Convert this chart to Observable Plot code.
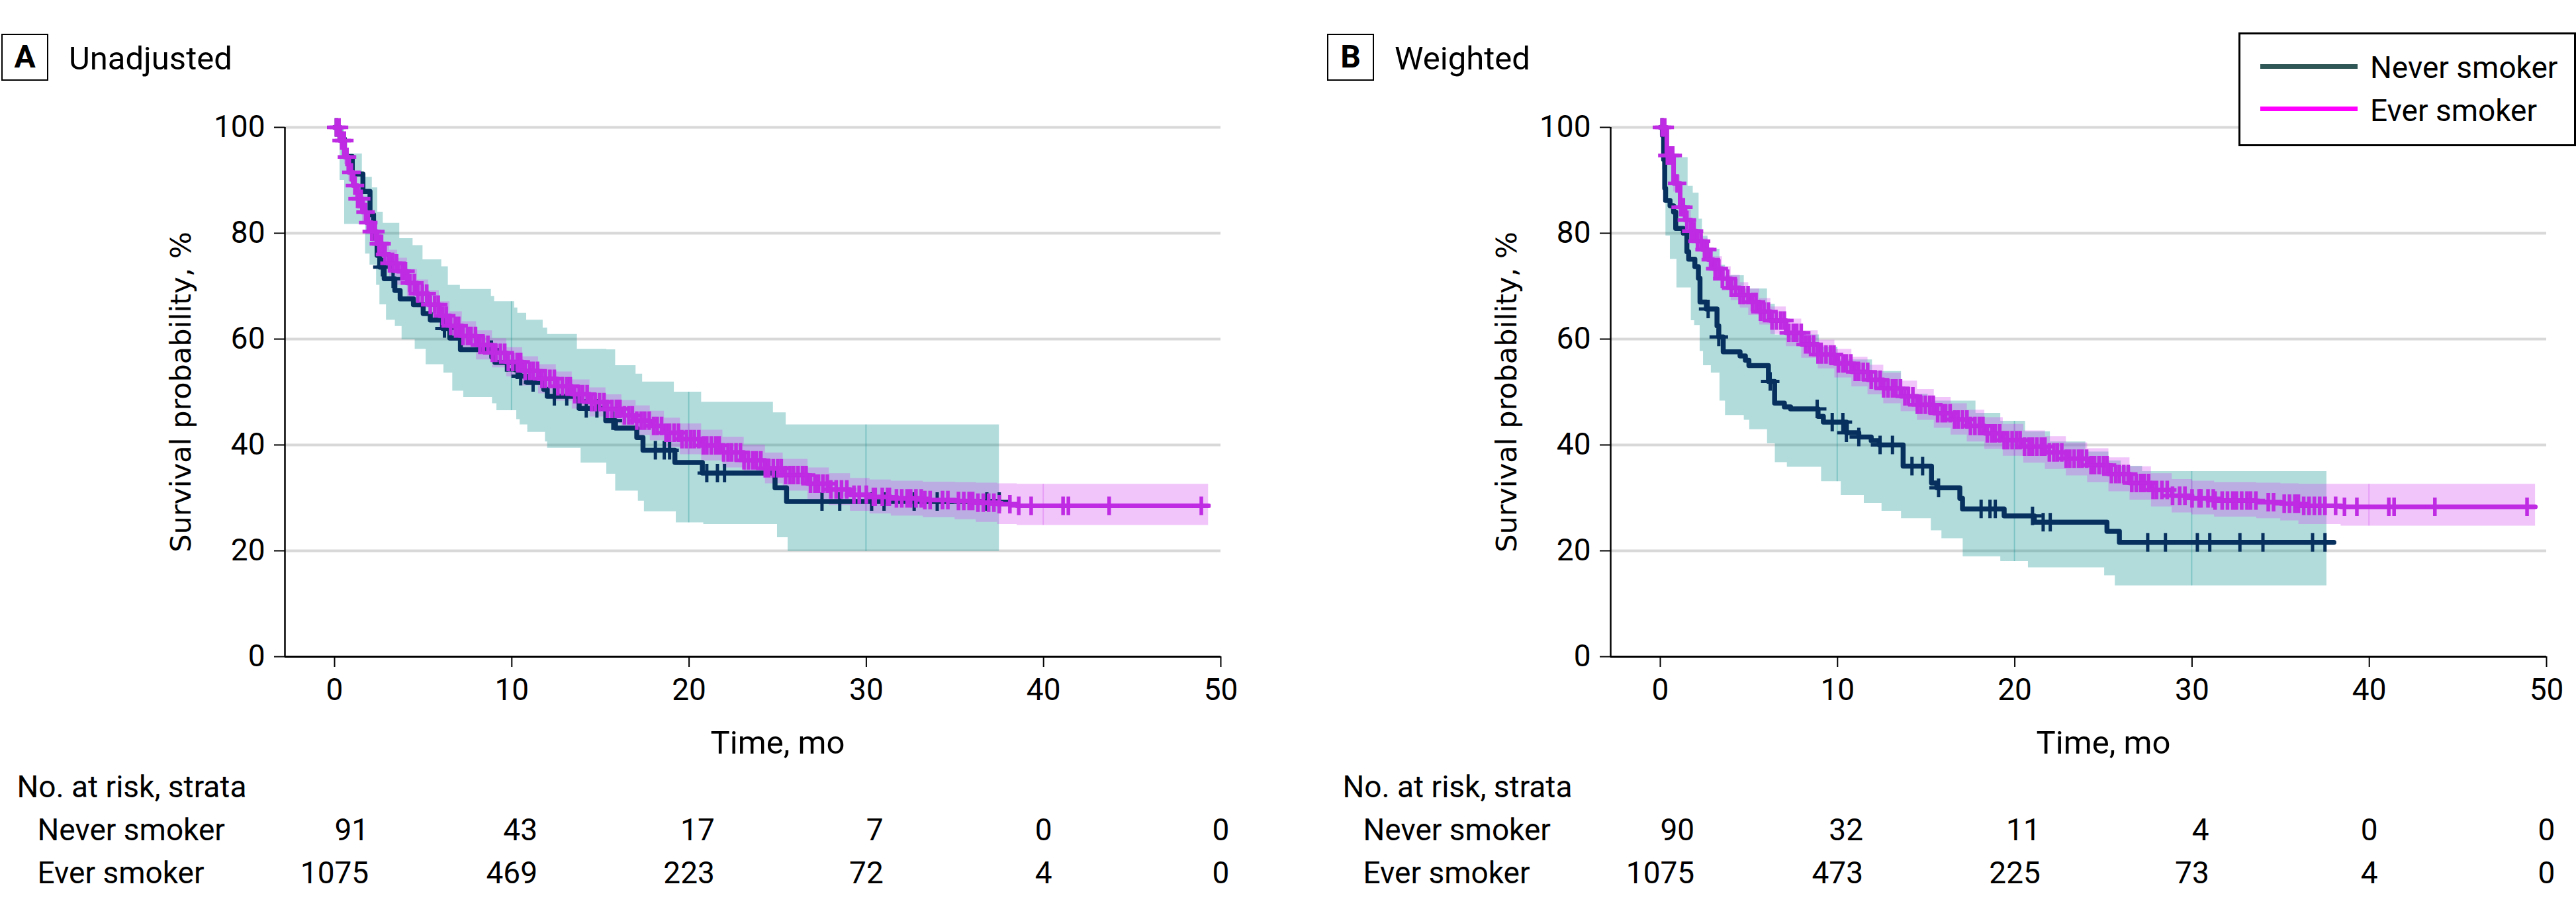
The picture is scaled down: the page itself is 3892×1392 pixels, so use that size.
<!DOCTYPE html>
<html>
<head>
<meta charset="utf-8">
<script src="https://cdn.jsdelivr.net/npm/d3@7"></script>
<script src="https://cdn.jsdelivr.net/npm/@observablehq/plot@0.6"></script>
<style>
  html, body { margin: 0; padding: 0; background: #fff; }
  body { width: 3892px; height: 1392px; position: relative; overflow: hidden;
         font-family: Roboto, "Liberation Sans", sans-serif; color: #000; }
  .panel { position: absolute; top: 0; width: 1889px; height: 1392px; }
  .tag { position: absolute; left: 2px; top: 51px; width: 71px; height: 71px; box-sizing: border-box;
         border: 2.5px solid #000; font-weight: bold; font-size: 48px; line-height: 66px; text-align: center; }
  .title { position: absolute; left: 104px; top: 64px; font-size: 49px; line-height: 49px; white-space: nowrap; }
  .main { position: absolute; left: 0; top: 150px; }
  .risk { position: absolute; left: 0; top: 1150px; }
  .legend { position: absolute; left: 3382px; top: 49px; width: 510px; height: 172px; box-sizing: border-box;
            border: 3px solid #000; background: #fff; }
  .legend .sw { position: absolute; left: 30px; width: 147px; height: 7px; }
  .legend .lt { position: absolute; left: 196px; font-size: 46px; line-height: 46px; white-space: nowrap; }
</style>
</head>
<body>
<div id="panelA" class="panel" style="left:0px"></div>
<div id="panelB" class="panel" style="left:2003px"></div>
<div id="legend" class="legend"></div>
<script>
// ---------------- shared axis / label data ----------------
const X_TICKS = [0, 10, 20, 30, 40, 50];
const Y_TICKS = [0, 20, 40, 60, 80, 100];
const X_DOMAIN = [-2.8, 50];
const X_LABEL = "Time, mo";
const Y_LABEL = "Survival probability, %";
const RISK_TITLE = "No. at risk, strata";
const STRATA = ["Never smoker", "Ever smoker"];
const PANEL_TAGS = ["A", "B"];
const PANEL_TITLES = ["Unadjusted", "Weighted"];
const NEVER_COLOR = "#07305e";
const EVER_COLOR = "#bf2ae3";
const LEGEND_COLORS = ["#2f5755", "#ff00ff"];

// censoring times (same patients in both panels)
const NEVER_CENSOR = [0.1, 2.7, 3.3, 6.2, 8.85, 9.7, 10.3, 10.5, 11.2, 12.4, 13.1, 14.2, 14.8, 15.7, 18.1, 18.6, 18.9,
  21.0, 21.6, 22.0, 27.5, 28.5, 30.3, 31.0, 32.7, 34.0, 36.8, 37.5];
const EVER_CENSOR = [0.1,0.25,0.4,0.55,0.7,0.95,1.15,1.3,1.5,1.75,1.9,2.1,2.3,2.5,2.65,2.85,3.1,3.3,3.5,3.8,4.0,4.25,4.5,
  4.7,4.95,5.2,5.4,5.65,5.85,6.1,6.3,6.55,6.8,7.0,7.25,7.5,7.7,7.95,8.2,8.4,8.65,8.9,9.1,9.35,9.6,9.8,10.05,10.3,10.5,
  10.75,11.0,11.2,11.45,11.7,11.9,12.15,12.4,12.6,12.85,13.1,13.3,13.55,13.8,14.0,14.25,14.5,14.7,14.95,15.2,15.4,15.65,
  15.9,16.1,16.35,16.6,16.8,17.05,17.3,17.5,17.75,18.0,18.2,18.45,18.7,18.9,19.15,19.4,19.6,19.85,20.1,20.3,20.55,20.8,
  21.0,21.25,21.5,21.7,21.95,22.2,22.4,22.65,22.9,23.1,23.35,23.6,23.8,24.05,24.3,24.5,24.75,25.0,25.2,25.45,25.7,25.9,
  26.15,26.4,26.6,26.85,27.1,27.3,27.55,27.8,28.0,28.3,28.6,28.9,29.3,29.6,30.0,30.4,30.5,30.9,31.2,31.3,31.7,32.0,32.3,
  32.5,32.8,33.1,33.3,33.6,34.3,34.6,35.2,35.5,35.8,36.0,36.3,36.6,36.9,37.2,37.5,38.1,38.6,39.3,41.1,41.4,43.7,48.9];

// ---------------- Panel A: unadjusted ----------------
const neverA_t = [0,0.3,0.56,1.0,1.6,2.0,2.2,2.4,2.55,2.8,3.4,3.7,4.45,5.0,5.4,6.1,6.5,7.1,8.87,9.05,10.2,10.4,10.85,
  11.8,12.0,13.8,15.3,15.85,17.05,17.4,19.2,20.75,24.85,25.5,37.5];
const neverA_s = [100,97.8,94.5,91.2,87.9,83.5,79.1,75.8,73.6,71.4,69.2,67.6,66.5,64.8,63.6,62.0,60.2,58.0,56.6,55.6,
  54.2,53.0,51.8,50.5,49.2,46.9,44.6,43.2,41.4,39.0,36.7,34.7,31.9,29.3,29.3];
const neverA_ci_t = [0,0.3,0.56,1.56,1.74,1.99,2.12,2.36,2.43,2.55,2.74,2.92,3.42,3.67,3.8,4.42,4.54,4.98,5.16,6.04,
  6.16,6.41,6.66,7.09,7.28,8.84,8.9,9.02,9.15,10.15,10.27,10.33,10.46,10.83,10.89,11.76,11.89,12.01,13.69,13.9,15.35,
  15.85,17.0,17.13,17.37,17.47,19.16,19.27,20.7,20.82,24.75,24.98,25.47,25.58,37.5];
const neverA_lo = [100,90,81.7,81.7,76.1,74,74,70.2,70.2,66.5,66.5,63.6,62.4,62.4,59.9,59.9,58.1,58.1,55.2,55.2,53.6,
  53.6,50.2,50.2,49,49,47.8,47.8,46.5,46.5,44.8,44.8,43.8,43.8,42.4,42.4,40.6,39.4,39.4,36.6,34.5,31.3,31.3,29.4,29.4,
  27.4,27.4,25.3,25.3,25.0,25.0,22.5,22.5,19.9,19.9];
const neverA_hi = [100,100,95,90.6,90.6,90.6,88.6,88.6,84,84,81.9,81.9,81.9,79,79,77.7,77.7,75,75,73.7,73.7,70.2,70.2,
  69.4,69.4,68.1,68.1,67.1,67.1,65.9,65.9,64.9,64.9,63.6,63.6,62.1,62.1,60.9,58.1,58.1,58,55,53.4,53.4,51.9,51.9,50,50,
  48.1,48.1,46.1,46.1,43.8,43.8,43.8];
const everA_t = [0,0.3,0.56,0.8,1.05,1.3,1.57,1.8,2.1,2.4,2.7,3.1,3.55,4.1,4.67,5.3,5.9,6.5,7.2,8.0,8.9,9.7,10.6,11.5,
  12.5,13.4,14.4,15.3,16.2,17.0,17.8,18.6,19.5,20.7,21.9,23.1,24.3,25.3,26.7,27.9,29.1,30.2,31.4,33.2,35.0,36.2,37.4,
  38.5,49.3];
const everA_s = [100,97.5,94.4,91.5,89,86.5,84,82,80.3,78,76,74.3,72.8,70.6,68.6,66.5,64.4,62.5,60.6,58.9,57.4,55.7,54,
  52.5,51.1,49.6,48.1,46.8,45.6,44.6,43.6,42.3,41.1,39.9,38.6,37.1,35.6,34.3,32.7,31.6,30.6,30.2,29.9,29.6,29.4,29.1,
  28.8,28.5,28.5];
const everA_lo = [100,96.4,93.0,89.8,87.1,84.5,81.9,79.8,78.0,75.6,73.5,71.8,70.2,67.9,65.9,63.8,61.6,59.7,57.8,56.1,
  54.6,52.9,51.2,49.7,48.3,46.8,45.3,44.0,42.8,41.8,40.8,39.5,38.2,37.0,35.7,34.2,32.7,31.3,29.7,28.6,27.5,27.0,26.6,
  26.3,25.9,25.4,25.0,24.8,24.8];
const everA_hi = [100,98.4,95.7,93.1,90.8,88.4,86.0,84.1,82.5,80.3,78.4,76.8,75.3,73.2,71.2,69.2,67.1,65.2,63.3,61.6,
  60.1,58.4,56.7,55.2,53.8,52.3,50.8,49.5,48.4,47.4,46.4,45.1,44.0,42.8,41.5,40.0,38.5,37.3,35.7,34.6,33.7,33.4,33.2,
  33.0,32.9,32.8,32.7,32.6,32.6];
const riskA_never = [91, 43, 17, 7, 0, 0];
const riskA_ever = [1075, 469, 223, 72, 4, 0];

// ---------------- Panel B: weighted ----------------
const neverB_t = [0,0.12,0.19,0.25,0.3,0.55,0.75,0.87,1.3,1.5,1.6,1.95,2.15,2.24,2.6,3.2,3.3,3.55,4.5,4.8,5.0,6.1,6.45,
  7.0,7.35,8.9,9.2,10.5,11.2,11.9,12.35,13.7,15.3,15.6,16.9,17.05,19.4,21.1,25.2,25.9,38.0];
const neverB_s = [100,98.5,93.9,88.5,86.2,85.2,84.0,80.9,80.0,76.5,75.1,73.7,71.5,67.0,65.7,62.5,60.4,57.6,56.8,56.0,
  55.0,52.0,47.9,47.2,46.8,45.4,44.3,42.3,41.5,40.8,40.0,36.0,32.8,31.9,29.9,27.9,26.6,25.4,23.7,21.6,21.6];
const neverB_ci_t = [0,0.12,0.31,0.56,0.93,1.56,1.74,1.85,1.93,2.18,2.24,2.37,2.43,2.68,2.87,3.36,3.67,4.73,5.04,6.04,
  6.48,7.16,8.97,9.09,10.0,10.2,11.5,11.96,12.5,13.6,14.57,15.1,15.28,15.88,17.08,17.8,19.2,20.6,20.76,22.0,24.0,25.06,
  25.3,25.66,26.0,27.2,37.6];
const neverB_lo = [100,92,79.5,75.1,69.7,69.7,63.5,63.5,62.6,62.6,57.7,57.7,55.0,55.0,53.6,48.3,45.6,44.7,42.9,40.25,
  36.7,35.8,35.8,33.1,33.1,30.5,29.0,29.0,27.5,26.1,26.1,26.1,23.8,22.3,18.9,18.9,18.0,18.0,16.8,16.8,16.8,15.3,15.3,
  13.4,13.4,13.4,13.4];
const neverB_hi = [100,100,94.3,94.3,94.3,88.9,88.9,87.6,87.6,82.7,82.7,79.5,79.5,77,77,74,72,69.5,69.5,66.6,60.8,60.8,
  58.5,58.5,56.1,56.1,56.1,53.9,53.9,49.6,49.6,48.3,48.3,48.3,48.3,46,44.5,42.5,42.5,40.6,38.7,38.7,37,37,36,35,35];
const everB_t = [0,0.37,0.75,1.12,1.4,1.74,2.05,2.37,2.7,2.99,3.5,3.99,4.5,4.98,5.6,6.23,7.1,7.97,8.9,9.84,10.8,11.71,
  12.6,13.58,14.5,15.45,16.4,17.31,18.3,19.34,20.5,21.72,22.9,24.1,25.3,26.49,27.7,28.87,30.0,31.26,33.64,35.0,36.02,
  38.4,49.37];
const everB_s = [100,94.7,89.4,84.9,82.5,80.4,78.5,76.9,75,73.3,71.4,69.7,68.3,67,65.2,63.5,61.2,59,57.1,55.4,53.8,52.3,
  50.7,49.2,47.6,46,44.8,43.6,42.2,40.9,39.7,38.6,37.4,36.2,34.5,32.8,31.5,30.4,29.9,29.5,29.2,28.9,28.5,28.3,28.3];
const everB_lo = [100,93.3,87.8,83.1,80.6,78.4,76.4,74.7,72.8,71.0,69.1,67.3,65.9,64.5,62.7,60.9,58.6,56.4,54.4,52.7,
  51.0,49.5,47.8,46.3,44.7,43.2,41.9,40.6,39.2,37.9,36.6,35.4,34.2,32.9,31.2,29.6,28.3,27.2,26.8,26.4,26.1,25.7,25.0,
  24.7,24.7];
const everB_hi = [100,96.1,91.0,86.7,84.4,82.4,80.6,79.1,77.2,75.6,73.7,72.1,70.7,69.5,67.7,66.1,63.8,61.6,59.8,58.1,
  56.6,55.1,53.6,52.1,50.5,49.0,47.8,46.6,45.2,43.9,42.7,41.6,40.4,39.3,37.6,35.9,34.6,33.5,33.2,32.9,32.8,32.7,32.6,
  32.6,32.6];
const riskB_never = [90, 32, 11, 4, 0, 0];
const riskB_ever = [1075, 473, 225, 73, 4, 0];

// ---------------- helpers ----------------
const zipCurve = (t, s) => t.map((v, i) => ({t: v, s: s[i]}));
const stepIndex = (t, c) => Math.max(0, d3.bisectRight(t, c) - 1);
function censorPoints(times, t, s) {
  return times.filter(c => c <= t[t.length - 1]).map(c => ({t: c, s: s[stepIndex(t, c)]}));
}
// the ribbons are drawn in 10-month pieces that overlap very slightly (faint seams, as in the original)
function bandPieces(t, lo, hi) {
  const rows = [];
  const end = t[t.length - 1];
  const cuts = X_TICKS.filter(v => v > 0 && v < end);
  const edges = [0, ...cuts, end];
  const ov = 0.035;
  for (let k = 0; k < edges.length - 1; k++) {
    const a = k === 0 ? edges[k] : edges[k] - ov;
    const b = k === edges.length - 2 ? edges[k + 1] : edges[k + 1] + ov;
    const pts = [a, ...t.filter(v => v > a && v < b), b];
    pts.forEach(v => { const i = stepIndex(t, v); rows.push({seg: k, t: v, lo: lo[i], hi: hi[i]}); });
  }
  return rows;
}
const plusSymbol = {
  draw(ctx, size) {
    const r = Math.sqrt(size / Math.PI);
    ctx.moveTo(-r, 0); ctx.lineTo(r, 0);
    ctx.moveTo(0, -r); ctx.lineTo(0, r);
  }
};
const W = 1889, ML = 430, MR = 45;

function survivalPlot(d) {
  const never = zipCurve(d.neverT, d.neverS);
  const ever = zipCurve(d.everT, d.everS);
  const neverBand = bandPieces(d.neverCiT, d.neverLo, d.neverHi);
  const everBand = bandPieces(d.everT, d.everLo, d.everHi);
  const neverCens = censorPoints(NEVER_CENSOR, d.neverT, d.neverS);
  const everCens = censorPoints(EVER_CENSOR, d.everT, d.everS);
  const xMid = d3.mean(d3.extent(X_TICKS));
  return Plot.plot({
    width: W, height: 1000, marginLeft: ML, marginRight: MR, marginTop: 42, marginBottom: 158,
    x: {domain: X_DOMAIN}, y: {domain: [0, 100]},
    style: {fontFamily: "Roboto", fontSize: "46px", color: "#000", background: "none", overflow: "visible"},
    marks: [
      Plot.ruleY(Y_TICKS.filter(v => v > 0), {stroke: "#d8d8d8", strokeWidth: 4}),
      Plot.areaY(neverBand, {x: "t", y1: "lo", y2: "hi", z: "seg", curve: "step-after", fill: "#008b8b", fillOpacity: 0.3}),
      Plot.areaY(everBand, {x: "t", y1: "lo", y2: "hi", z: "seg", curve: "step-after", fill: "#d040f0", fillOpacity: 0.3}),
      Plot.line(never, {x: "t", y: "s", curve: "step-after", stroke: NEVER_COLOR, strokeWidth: 7.5}),
      Plot.dot(neverCens, {x: "t", y: "s", symbol: plusSymbol, r: 14, fill: "none", stroke: NEVER_COLOR, strokeWidth: 5}),
      Plot.line(ever, {x: "t", y: "s", curve: "step-after", stroke: EVER_COLOR, strokeWidth: 7}),
      Plot.dot(everCens, {x: "t", y: "s", symbol: plusSymbol, r: 14, fill: "none", stroke: EVER_COLOR, strokeWidth: 5.5}),
      Plot.ruleX([X_DOMAIN[0]], {stroke: "#000", strokeWidth: 2.5}),
      Plot.ruleY([0], {stroke: "#000", strokeWidth: 3}),
      Plot.axisY({ticks: Y_TICKS, tickSize: 16, tickPadding: 14, strokeWidth: 2, label: null}),
      Plot.axisX({ticks: X_TICKS, tickSize: 16, tickPadding: 17, strokeWidth: 2, label: null}),
      Plot.text([Y_LABEL], {text: v => v, frameAnchor: "left", rotate: -90, dx: -156, textAnchor: "middle",
        lineAnchor: "middle", fontFamily: "DejaVu Sans", fontSize: 43}),
      Plot.text([X_LABEL], {text: v => v, x: xMid, frameAnchor: "bottom", dy: 131, lineAnchor: "middle", fontSize: 49})
    ]
  });
}

function riskPlot(neverN, everN) {
  const digitW = 0.5615 * 46;
  const everRows = X_TICKS.map((t, i) => ({t, strata: STRATA[1], label: String(everN[i])}));
  const neverRows = X_TICKS.map((t, i) => ({t, strata: STRATA[0], label: String(neverN[i]), len: String(everN[i]).length}));
  const lens = Array.from(new Set(neverRows.map(r => r.len)));
  return Plot.plot({
    width: W, height: 242, marginLeft: ML, marginRight: MR, marginTop: 72, marginBottom: 40,
    x: {domain: X_DOMAIN, axis: null}, y: {type: "band", domain: STRATA, padding: 0, axis: null},
    style: {fontFamily: "Roboto", fontSize: "46px", color: "#000", background: "none", overflow: "visible"},
    marks: [
      Plot.axisY({tickSize: 0, tickPadding: 0, textAnchor: "start", dx: -374, label: null}),
      Plot.text(everRows, {x: "t", y: "strata", text: "label", textAnchor: "middle", lineAnchor: "middle"}),
      ...lens.map(len => Plot.text(neverRows.filter(r => r.len === len),
        {x: "t", y: "strata", text: "label", textAnchor: "end", lineAnchor: "middle", dx: len * digitW / 2})),
      Plot.text([RISK_TITLE], {text: v => v, frameAnchor: "top-left", textAnchor: "start", lineAnchor: "middle", dx: -405, dy: -32})
    ]
  });
}

const panels = [
  {id: "panelA", neverT: neverA_t, neverS: neverA_s, neverCiT: neverA_ci_t, neverLo: neverA_lo, neverHi: neverA_hi,
   everT: everA_t, everS: everA_s, everLo: everA_lo, everHi: everA_hi, riskNever: riskA_never, riskEver: riskA_ever},
  {id: "panelB", neverT: neverB_t, neverS: neverB_s, neverCiT: neverB_ci_t, neverLo: neverB_lo, neverHi: neverB_hi,
   everT: everB_t, everS: everB_s, everLo: everB_lo, everHi: everB_hi, riskNever: riskB_never, riskEver: riskB_ever}
];

panels.forEach((p, k) => {
  const host = document.getElementById(p.id);
  const tag = document.createElement("div"); tag.className = "tag"; tag.textContent = PANEL_TAGS[k]; host.appendChild(tag);
  const title = document.createElement("div"); title.className = "title"; title.textContent = PANEL_TITLES[k]; host.appendChild(title);
  const main = survivalPlot(p); main.classList.add("main"); host.appendChild(main);
  const risk = riskPlot(p.riskNever, p.riskEver); risk.classList.add("risk"); host.appendChild(risk);
});

// legend
const legend = document.getElementById("legend");
STRATA.forEach((name, i) => {
  const sw = document.createElement("div"); sw.className = "sw";
  sw.style.top = (44.5 + i * 64) + "px"; sw.style.background = LEGEND_COLORS[i];
  legend.appendChild(sw);
  const lt = document.createElement("div"); lt.className = "lt";
  lt.style.top = (27 + i * 65) + "px"; lt.textContent = name;
  legend.appendChild(lt);
});
</script>
</body>
</html>
